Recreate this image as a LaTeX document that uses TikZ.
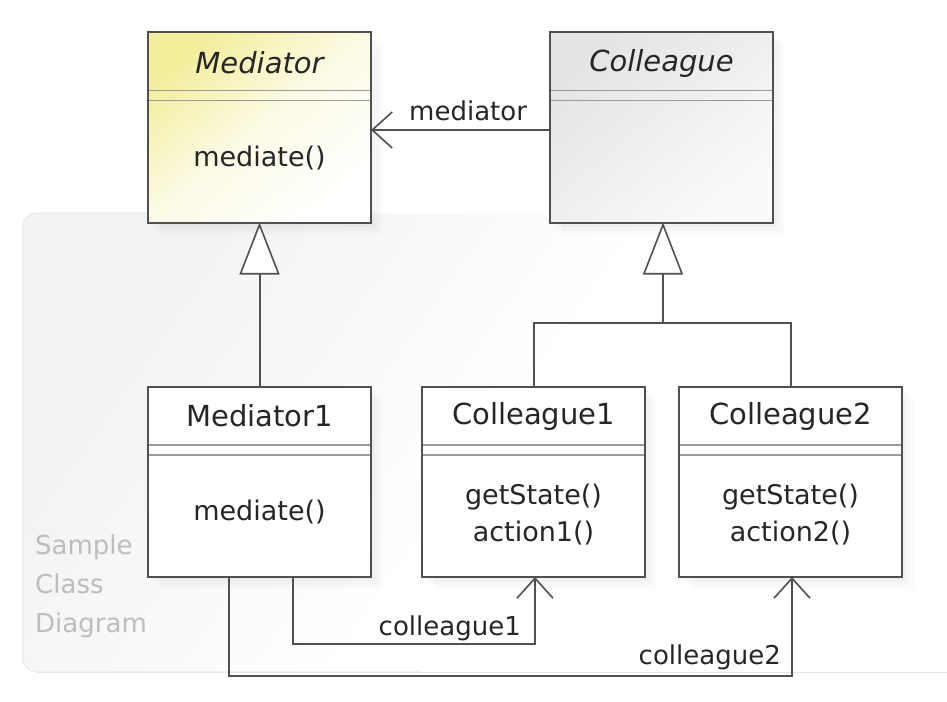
\documentclass[tikz,border=0pt]{standalone}
\usepackage{fontspec}
\setmainfont{DejaVu Sans}
\usetikzlibrary{arrows.meta,shadows}
\definecolor{boxline}{HTML}{505050}
\definecolor{sepline}{HTML}{9A9A9A}
\definecolor{medyellow}{HTML}{F3EE9C}
\definecolor{colgray}{HTML}{E4E4E4}
\definecolor{notegray}{HTML}{BDBDBD}
\tikzset{
  classbox/.style={draw=boxline, line width=2pt, minimum width=223pt, minimum height=190pt,
    inner sep=0pt, outer sep=0pt,
    drop shadow={opacity=0.035, shadow xshift=4pt, shadow yshift=-4pt},
    drop shadow={opacity=0.035, shadow xshift=8pt, shadow yshift=-8pt},
    drop shadow={opacity=0.03, shadow xshift=12pt, shadow yshift=-12pt}},
  plainbox/.style={classbox, fill=white},
  sepl/.style={draw=sepline, line width=1.4pt},
  hdr/.style={font=\fontsize{29}{34}\selectfont, text=black!85, inner sep=0pt},
  hdri/.style={hdr, font=\fontsize{29}{34}\selectfont\itshape},
  meth/.style={font=\fontsize{27}{37}\selectfont, text=black!85, inner sep=0pt, align=center},
  lbl/.style={font=\fontsize{26}{30}\selectfont, text=black!85, inner sep=0pt},
  conn/.style={draw=boxline, line width=2pt},
  gen/.style={conn, -{Triangle[open, length=52pt, width=40pt, fill=white, line width=1.6pt]}},
  assoc/.style={conn, -{Straight Barb[length=20pt, width=36pt, line width=1.6pt]}},
}
\begin{document}
\begin{tikzpicture}[x=1pt, y=-1pt]
\useasboundingbox (0,0) rectangle (947,701);
% faint frame of the sample diagram
\fill[top color=black!5, bottom color=white, middle color=white, shading angle=55, rounded corners=14pt] (23,213) rectangle (980,672);
\draw[draw=black!8, line width=1.2pt, rounded corners=14pt] (160,213) -- (23,213) -- (23,672) -- (420,672);
\node[font=\fontsize{26}{39}\selectfont, text=notegray, align=left, anchor=north west, inner sep=0pt] (note) at (35,535) {Sample\\Class\\Diagram};

% class boxes
\node[classbox, top color=medyellow, bottom color=white, middle color=white!75!medyellow, shading angle=40] (med) at (259.5,127.5) {};
\node[classbox, top color=colgray, bottom color=white!98!black, shading angle=40] (col) at (661.5,127.5) {};
\node[plainbox] (med1) at (259.5,482) {};
\node[plainbox] (col1) at (533.5,482) {};
\node[plainbox] (col2) at (790.5,482) {};

% separators
\foreach \b in {med,col,med1,col1,col2}{
  \draw[sepl] (\b.north west) ++(1,58) -- ++(221,0);
  \draw[sepl] (\b.north west) ++(1,68) -- ++(221,0);
}

% texts
\node[hdri] (medh) at (259.5,63) {Mediator};
\node[meth] (medm) at (259.5,158) {mediate()};
\node[hdri] (colh) at (661.5,63) {Colleague};
\node[hdr] (med1h) at (259.5,416) {Mediator1};
\node[meth] (med1m) at (259.5,512) {mediate()};
\node[hdr] (col1h) at (533.5,416) {Colleague1};
\node[meth] (col1m) at (533.5,515) {getState()\\action1()};
\node[hdr] (col2h) at (790.5,416) {Colleague2};
\node[meth] (col2m) at (790.5,515) {getState()\\action2()};

% generalizations
\draw[gen] (med1.north) -- (med.south);
\coordinate (join) at (663,323);
\draw[conn] (col1.north) |- (col2.north |- join) -- (col2.north);
\draw[gen] (join) -- (col.south -| join);

% associations
\draw[assoc] (col.west |- 0,130) -- (med.east |- 0,130);
\node[lbl, anchor=west] (lmed) at (409,111) {mediator};
\draw[assoc] ([xshift=33.5pt]med1.south) -- ++(0,67) -| ([xshift=1.5pt]col1.south);
\node[lbl, anchor=east] (lc1) at (521,628) {colleague1};
\draw[assoc] ([xshift=-30.5pt]med1.south) -- ++(0,99) -| ([xshift=1.5pt]col2.south);
\node[lbl, anchor=east] (lc2) at (781,657) {colleague2};
\end{tikzpicture}
\end{document}
